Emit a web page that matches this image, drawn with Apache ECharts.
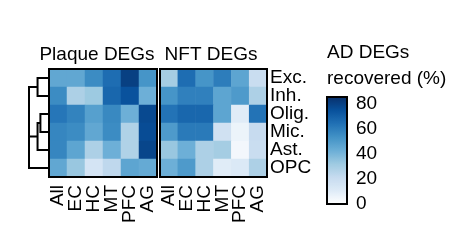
<!DOCTYPE html>
<html><head><meta charset="utf-8">
<script src="https://cdn.jsdelivr.net/npm/echarts@6/dist/echarts.min.js"></script>
<style>html,body{margin:0;padding:0;background:#fff}#c{width:468px;height:240px}</style>
</head><body><div id="c"></div>
<script>
const columns = ['All', 'EC', 'HC', 'MT', 'PFC', 'AG'];
const cellTypes = ['Exc.', 'Inh.', 'Olig.', 'Mic.', 'Ast.', 'OPC'];
const plaqueValues = [
  [45, 45, 55, 65, 80, 52],
  [55, 28, 32, 67, 74, 42],
  [62, 58, 48, 56, 42, 77],
  [57, 55, 45, 55, 27, 76],
  [57, 46, 28, 42, 27, 78],
  [45, 33, 15, 23, 46, 44]
];
const nftValues = [
  [30, 65, 52, 60, 46, 20],
  [52, 59, 59, 46, 50, 28],
  [63, 67, 67, 46, 10, 63],
  [50, 61, 61, 17, 6, 21],
  [33, 42, 28, 30, 4, 20],
  [42, 50, 28, 10, 12, 28]
];
const colorbarTicks = [0, 20, 40, 60, 80];
// dendrogram links: [rowPosA, rowPosB, mergeHeight, childHeightA, childHeightB]
const dendroLinks = [
  [0, 1, 0.55, 0, 0],
  [2, 3, 0.4, 0, 0],
  [2.5, 4, 0.55, 0.4, 0],
  [0.5, 5, 1.0, 0.55, 0],
  [3.25, 3.25, 1.0, 0.55, 0.55]
];
const titles = ['Plaque DEGs', 'NFT DEGs'];
const legendTitle = ['AD DEGs', 'recovered (%)'];

const FONT = 'Liberation Sans, Arial, Helvetica, sans-serif';
const blues = ['#ffffff','#deebf7','#c6dbef','#9ecae1','#6baed6','#4292c6','#2171b5','#08519c','#08306b'];

function toCells(m) {
  const out = [];
  m.forEach((row, r) => row.forEach((v, c) => out.push([c, r, v])));
  return out;
}

const chart = echarts.init(document.getElementById('c'), null, {renderer: 'canvas'});
const hmGridCommon = {show: true, borderColor: '#000', borderWidth: 2, backgroundColor: 'transparent', z: 10};
const option = {
  animation: false,
  textStyle: {fontFamily: FONT},
  grid: [
    Object.assign({left: 49, top: 69, width: 108, height: 108}, hmGridCommon),
    Object.assign({left: 160, top: 69, width: 107, height: 108}, hmGridCommon),
    {left: 29, top: 69, width: 19, height: 108, show: false},
    Object.assign({left: 327, top: 97, width: 20, height: 107}, hmGridCommon)
  ],
  xAxis: [
    {type: 'category', gridIndex: 0, data: columns, axisLine: {show: false}, axisTick: {show: false},
     axisLabel: {interval: 0, rotate: 90, fontSize: 19, color: '#000', fontFamily: FONT, margin: 8}},
    {type: 'category', gridIndex: 1, data: columns, axisLine: {show: false}, axisTick: {show: false},
     axisLabel: {interval: 0, rotate: 90, fontSize: 19, color: '#000', fontFamily: FONT, margin: 8}},
    {type: 'value', gridIndex: 2, min: 0, max: 1, inverse: true, show: false},
    {type: 'value', gridIndex: 3, min: 0, max: 1, show: false}
  ],
  yAxis: [
    {type: 'category', gridIndex: 0, data: cellTypes, inverse: true, axisLine: {show: false}, axisTick: {show: false}, axisLabel: {show: false}},
    {type: 'category', gridIndex: 1, data: cellTypes, inverse: true, position: 'right', axisLine: {show: false}, axisTick: {show: false},
     axisLabel: {interval: 0, fontSize: 19, color: '#000', fontFamily: FONT, margin: 3, lineHeight: 18}},
    {type: 'value', gridIndex: 2, min: -0.5, max: 5.5, inverse: true, show: false},
    {type: 'value', gridIndex: 3, min: 0, max: 85, interval: 20, position: 'right', splitLine: {show: false},
     axisLine: {show: false}, axisTick: {show: true, length: 3, lineStyle: {color: '#000', width: 1}},
     axisLabel: {fontSize: 19, color: '#000', fontFamily: FONT, margin: 9, customValues: colorbarTicks}
    }
  ],
  visualMap: {
    type: 'continuous', min: 0, max: 85, seriesIndex: [0, 1], calculable: false,
    orient: 'vertical', left: 327, top: 97, itemWidth: 20, itemHeight: 107, padding: 0,
    text: ['', ''], showLabel: false, hoverLink: false,
    inRange: {color: blues}
  },
  graphic: [
    {type: 'text', x: 97, y: 55, style: {text: titles[0], fill: '#000', font: '19px ' + FONT, textAlign: 'center', textVerticalAlign: 'middle'}},
    {type: 'text', x: 211, y: 55, style: {text: titles[1], fill: '#000', font: '19px ' + FONT, textAlign: 'center', textVerticalAlign: 'middle'}},
    {type: 'text', x: 327, y: 53, style: {text: legendTitle[0], fill: '#000', font: '19px ' + FONT, textAlign: 'left', textVerticalAlign: 'middle'}},
    {type: 'text', x: 327, y: 79, style: {text: legendTitle[1], fill: '#000', font: '19px ' + FONT, textAlign: 'left', textVerticalAlign: 'middle'}}
  ],
  series: [
    {type: 'heatmap', xAxisIndex: 0, yAxisIndex: 0, data: toCells(plaqueValues), itemStyle: {borderWidth: 0}, emphasis: {disabled: true}},
    {type: 'heatmap', xAxisIndex: 1, yAxisIndex: 1, data: toCells(nftValues), itemStyle: {borderWidth: 0}, emphasis: {disabled: true}},
    {type: 'custom', xAxisIndex: 2, yAxisIndex: 2, data: dendroLinks, clip: false,
     renderItem: function (params, api) {
       const ya = api.value(0), yb = api.value(1), h = api.value(2), ha = api.value(3), hb = api.value(4);
       const p1 = api.coord([ha, ya]), p2 = api.coord([h, ya]), p3 = api.coord([h, yb]), p4 = api.coord([hb, yb]);
       return {type: 'polyline', shape: {points: [p1, p2, p3, p4]}, style: {stroke: '#000', lineWidth: 2, fill: null}};
     }}
  ]
};
chart.setOption(option);
</script></body></html>
